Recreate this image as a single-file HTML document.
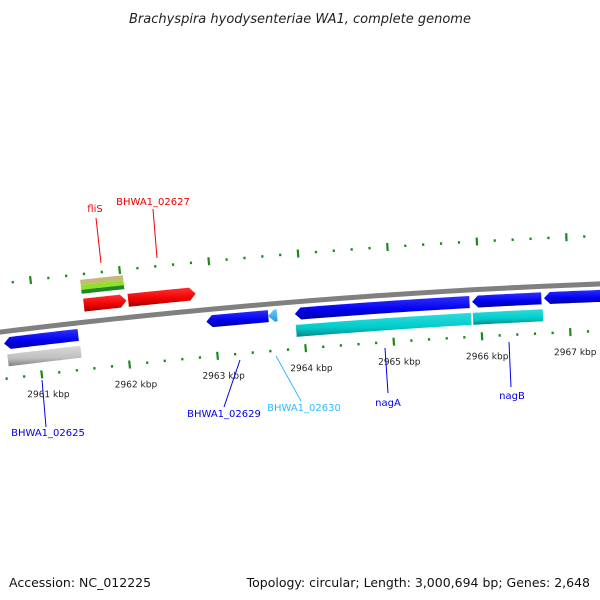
<!DOCTYPE html>
<html><head><meta charset="utf-8"><style>
body{margin:0;background:#fff}
svg{display:block;font-family:"DejaVu Sans","Liberation Sans",sans-serif}
</style></head><body>
<svg id="map" width="600" height="600" viewBox="0 0 600 600" xmlns="http://www.w3.org/2000/svg">
<defs>
<linearGradient id="gBlue" x1="0" y1="0" x2="0" y2="1"><stop offset="0" stop-color="#3030ff"/><stop offset="0.6" stop-color="#0000ee"/><stop offset="1" stop-color="#00009a"/></linearGradient>
<linearGradient id="gRed" x1="0" y1="0" x2="0" y2="1"><stop offset="0" stop-color="#ff3030"/><stop offset="0.6" stop-color="#ee0000"/><stop offset="1" stop-color="#a00000"/></linearGradient>
<linearGradient id="gCyan" x1="0" y1="0" x2="0" y2="1"><stop offset="0" stop-color="#30dada"/><stop offset="0.6" stop-color="#00cccc"/><stop offset="1" stop-color="#008888"/></linearGradient>
<linearGradient id="gGray" x1="0" y1="0" x2="0" y2="1"><stop offset="0" stop-color="#d8d8d8"/><stop offset="0.6" stop-color="#c0c0c0"/><stop offset="1" stop-color="#808080"/></linearGradient>
<linearGradient id="gLB" x1="0" y1="0" x2="0" y2="1"><stop offset="0" stop-color="#66ccff"/><stop offset="1" stop-color="#2299dd"/></linearGradient>
</defs>
<text x="300" y="23" text-anchor="middle" font-size="13" font-style="italic" fill="#222">Brachyspira hyodysenteriae WA1, complete genome</text>
<g id="g" transform="rotate(-0.3 600 285)"></g>
<g id="lab"></g>
<text x="9" y="587" font-size="12.5" fill="#111">Accession: NC_012225</text>
<text x="590" y="587" text-anchor="end" font-size="12.5" fill="#111">Topology: circular; Length: 3,000,694 bp; Genes: 2,648</text>
</svg>
<script>
const tickKbp = [2961, 2962, 2963, 2964, 2965, 2966, 2967];
const tickLabels = ["2961 kbp","2962 kbp","2963 kbp","2964 kbp","2965 kbp","2966 kbp","2967 kbp"];
const geneNames = ["fliS","BHWA1_02627","cog-stack","BHWA1_02625","gray-02625","BHWA1_02629","BHWA1_02630","nagA","nagB","next-gene","cyan-nagA","cyan-nagB"];
const geneStart = [2961.56,2962.06,2961.55,2960.62,2960.64,2962.91,2963.61,2963.91,2965.91,2966.72,2963.91,2965.91];
const geneEnd   = [2962.04,2962.82,2962.03,2961.46,2961.47,2963.61,2963.71,2965.88,2966.69,2967.60,2965.89,2966.70];
const geneStrand= [1,1,0,-1,0,-1,-1,-1,-1,-1,0,0];

const A=821.9,B=7265,R=6984.6,K0=2961,PHI0=-0.11276,DPHI=0.012742;
const g=document.getElementById('g');
const lab=document.getElementById('lab');
const NS='http://www.w3.org/2000/svg';
function phi(k){return PHI0+(k-K0)*DPHI;}
function pt(k,r){const p=phi(k);return [A+r*Math.sin(p),B-r*Math.cos(p)];}
function mk(tag,attrs,parent){const e=document.createElementNS(NS,tag);for(const a in attrs)e.setAttribute(a,attrs[a]);(parent||g).appendChild(e);return e;}
function arcPts(k1,k2,r){const a=[];const n=20;for(let i=0;i<=n;i++)a.push(pt(k1+(k2-k1)*i/n,r));return a;}

{const p=arcPts(2960.4,2967.8,R).map(q=>q.join(',')).join(' ');
const e=mk('polyline',{points:p,fill:'none',stroke:'#808080','stroke-width':5});

}

function ring(r,name){
  for(let k=2960.2;k<=2967.8;k+=0.2){
    const kk=Math.round(k*5)/5;
    const major=Math.abs(kk-Math.round(kk))<1e-6;
    const len=major?8:2.5;
    const a=pt(kk,r-len/2),b=pt(kk,r+len/2);
    const e=mk('line',{x1:a[0],y1:a[1],x2:b[0],y2:b[1],stroke:'#1a8a1a','stroke-width':2.2});
    
    
  }
}
ring(R+48,'outer-ring');
ring(R-47,'inner-ring');
tickKbp.forEach((k,i)=>{const p=pt(k,R-70);
  const t=mk('text',{x:p[0]+4,y:p[1],'text-anchor':'middle','font-size':9,fill:'#222'});
  t.textContent=tickLabels[i];
  
  });

function gene(k1,k2,r,h,dir,fill,name){
  const ah=6/R/DPHI;
  let top,bot;
  if(dir===1){top=arcPts(k1,k2-ah,r+h/2);bot=arcPts(k1,k2-ah,r-h/2).reverse();top.push(pt(k2,r));}
  else if(dir===-1){top=arcPts(k1+ah,k2,r+h/2);bot=arcPts(k1+ah,k2,r-h/2).reverse();bot.push(pt(k1,r));}
  else{top=arcPts(k1,k2,r+h/2);bot=arcPts(k1,k2,r-h/2).reverse();}
  const e=mk('polygon',{points:top.concat(bot).map(q=>q.join(',')).join(' '),fill:fill});
  
  
  return e;
}
const styleMap={
 "fliS":[R+17,13,'url(#gRed)'],"BHWA1_02627":[R+17,13,'url(#gRed)'],
 "BHWA1_02625":[R-12,12,'url(#gBlue)'],"BHWA1_02629":[R-12,12,'url(#gBlue)'],
 "BHWA1_02630":[R-12,12,'url(#gLB)'],"nagA":[R-12,12,'url(#gBlue)'],
 "nagB":[R-12,12,'url(#gBlue)'],"next-gene":[R-12,12,'url(#gBlue)'],
 "gray-02625":[R-29,12,'url(#gGray)'],"cyan-nagA":[R-29,12,'url(#gCyan)'],"cyan-nagB":[R-29,12,'url(#gCyan)']
};
geneNames.forEach((n,i)=>{
  if(n==='cog-stack'){
    gene(geneStart[i],geneEnd[i],R+40,5,0,'#c8b878','cog-bar-tan');
    gene(geneStart[i],geneEnd[i],R+35,5,0,'#8ee22a','cog-bar-lightgreen');
    gene(geneStart[i],geneEnd[i],R+30.5,4,0,'#1f8a1f','cog-bar-darkgreen');
    return;}
  const s=styleMap[n];
  gene(geneStart[i],geneEnd[i],s[0],s[1],geneStrand[i],s[2],'gene-'+n.toLowerCase().replace(/_/g,'-'));
});

const labels=[["fliS",95,212,'#ee0000',96,218,101,263],["BHWA1_02627",153,205,'#ee0000',153,209,157,258],
["BHWA1_02625",48,436,'#0000ee',42,380,46,427],["BHWA1_02629",224,417,'#0000ee',240,360,224,407],
["BHWA1_02630",304,411,'#33bbff',276,356,301,401],["nagA",388,406,'#0000ee',385,348,388,393],["nagB",512,399,'#0000ee',509,342,511,387]];
labels.forEach(l=>{
  const ln=mk('line',{x1:l[4],y1:l[5],x2:l[6],y2:l[7],stroke:l[3],'stroke-width':1},lab);
  
  
  const t=mk('text',{x:l[1],y:l[2],'text-anchor':'middle','font-size':10,fill:l[3]},lab);
  t.textContent=l[0];
  
  
});
</script>
</body></html>
